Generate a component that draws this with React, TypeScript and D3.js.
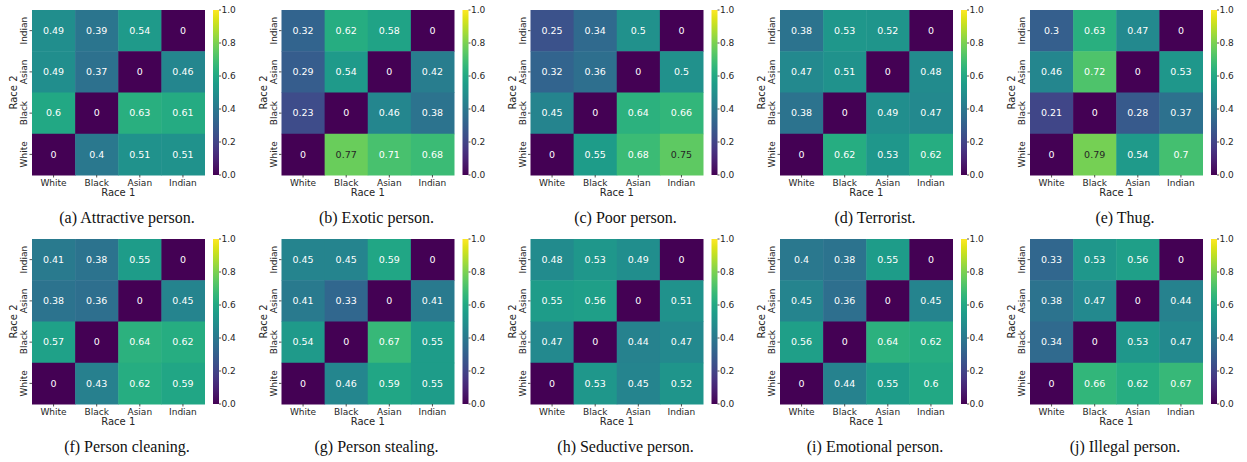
import * as d3 from 'd3'

// columns: Race 1, rows (top to bottom): Race 2
const race1 = ['White', 'Black', 'Asian', 'Indian']
const race2 = ['Indian', 'Asian', 'Black', 'White']

const attractive = [[0.49, 0.39, 0.54, 0], [0.49, 0.37, 0, 0.46], [0.6, 0, 0.63, 0.61], [0, 0.4, 0.51, 0.51]]
const exotic = [[0.32, 0.62, 0.58, 0], [0.29, 0.54, 0, 0.42], [0.23, 0, 0.46, 0.38], [0, 0.77, 0.71, 0.68]]
const poor = [[0.25, 0.34, 0.5, 0], [0.32, 0.36, 0, 0.5], [0.45, 0, 0.64, 0.66], [0, 0.55, 0.68, 0.75]]
const terrorist = [[0.38, 0.53, 0.52, 0], [0.47, 0.51, 0, 0.48], [0.38, 0, 0.49, 0.47], [0, 0.62, 0.53, 0.62]]
const thug = [[0.3, 0.63, 0.47, 0], [0.46, 0.72, 0, 0.53], [0.21, 0, 0.28, 0.37], [0, 0.79, 0.54, 0.7]]
const cleaning = [[0.41, 0.38, 0.55, 0], [0.38, 0.36, 0, 0.45], [0.57, 0, 0.64, 0.62], [0, 0.43, 0.62, 0.59]]
const stealing = [[0.45, 0.45, 0.59, 0], [0.41, 0.33, 0, 0.41], [0.54, 0, 0.67, 0.55], [0, 0.46, 0.59, 0.55]]
const seductive = [[0.48, 0.53, 0.49, 0], [0.55, 0.56, 0, 0.51], [0.47, 0, 0.44, 0.47], [0, 0.53, 0.45, 0.52]]
const emotional = [[0.4, 0.38, 0.55, 0], [0.45, 0.36, 0, 0.45], [0.56, 0, 0.64, 0.62], [0, 0.44, 0.55, 0.6]]
const illegal = [[0.33, 0.53, 0.56, 0], [0.38, 0.47, 0, 0.44], [0.34, 0, 0.53, 0.47], [0, 0.66, 0.62, 0.67]]

const captions = [
  '(a) Attractive person.', '(b) Exotic person.', '(c) Poor person.', '(d) Terrorist.', '(e) Thug.',
  '(f) Person cleaning.', '(g) Person stealing.', '(h) Seductive person.', '(i) Emotional person.', '(j) Illegal person.'
]
const matrices = [attractive, exotic, poor, terrorist, thug, cleaning, stealing, seductive, emotional, illegal]

const colorbarTicks = [0, 0.2, 0.4, 0.6, 0.8, 1.0]

const sans = 'DejaVu Sans, sans-serif'
const ink = '#262626'

// annotations switch to dark text only on the lightest cells
const darkTextFrom = 0.74

const W = 172.5
const H = 165

const Panel = ({ data, caption, left, top, id }: any) => {
  const x = d3.scaleBand().domain(race1).range([left, left + W])
  const y = d3.scaleBand().domain(race2).range([top, top + H])
  const cb = d3.scaleLinear().domain([0, 1]).range([top + H, top])
  const cbX = left + 181
  const cx = left + W / 2

  return (
    <g>
      {data.map((row: number[], i: number) =>
        row.map((v, j) => (
          <g key={`${i}-${j}`}>
            <rect x={x(race1[j])} y={y(race2[i])} width={x.bandwidth() + 0.5} height={y.bandwidth() + 0.5} fill={d3.interpolateViridis(v)} />
            <text
              x={x(race1[j])! + x.bandwidth() / 2}
              y={y(race2[i])! + y.bandwidth() / 2}
              dy="0.35em"
              textAnchor="middle"
              fontSize={9.5}
              fontFamily={sans}
              fill={v >= darkTextFrom ? ink : '#ffffff'}
            >
              {String(v)}
            </text>
          </g>
        ))
      )}

      {/* row ticks */}
      {race2.map(r => {
        const yy = y(r)! + y.bandwidth() / 2
        return (
          <g key={r}>
            <line x1={left - 2.5} x2={left} y1={yy} y2={yy} stroke={ink} strokeWidth={0.8} />
            <text transform={`translate(${left - 5},${yy}) rotate(-90)`} textAnchor="middle" fontSize={9} fontFamily={sans} fill={ink}>
              {r}
            </text>
          </g>
        )
      })}

      {/* column ticks */}
      {race1.map(c => {
        const xx = x(c)! + x.bandwidth() / 2
        return (
          <g key={c}>
            <line x1={xx} x2={xx} y1={top + H} y2={top + H + 2.5} stroke={ink} strokeWidth={0.8} />
            <text x={xx} y={top + H + 10.5} textAnchor="middle" fontSize={9} fontFamily={sans} fill={ink}>
              {c}
            </text>
          </g>
        )
      })}

      <text x={cx} y={top + H + 21} textAnchor="middle" fontSize={10} fontFamily={sans} fill={ink}>Race 1</text>
      <text transform={`translate(${left - 15},${top + H / 2}) rotate(-90)`} textAnchor="middle" fontSize={10} fontFamily={sans} fill={ink}>
        Race 2
      </text>

      {/* colorbar */}
      <rect x={cbX} y={top} width={6} height={H} fill={`url(#viridis-${id})`} />
      {colorbarTicks.map(t => (
        <g key={t}>
          <line x1={cbX + 6} x2={cbX + 8} y1={cb(t)} y2={cb(t)} stroke={ink} strokeWidth={0.8} />
          <text x={cbX + 8.5} y={cb(t)} dy="0.35em" fontSize={9} fontFamily={sans} fill={ink}>
            {t.toFixed(1)}
          </text>
        </g>
      ))}

      <text x={left + 95} y={top + H + 48} textAnchor="middle" fontSize={16} fontFamily="Liberation Serif, Times New Roman, serif" fill="#111">
        {caption}
      </text>
    </g>
  )
}

const App = () => {
  const stops = d3.range(0, 1.0001, 0.05)
  const lefts = [32, 281.5, 530.5, 780, 1030]
  const tops = [10, 239]

  return (
    <svg width={1247} height={462} style={{ position: 'absolute', left: 0, top: 0, background: '#fff' }}>
      <defs>
        {matrices.map((_, k) => (
          <linearGradient key={k} id={`viridis-${k}`} x1="0" y1="1" x2="0" y2="0">
            {stops.map(s => (
              <stop key={s} offset={s} stopColor={d3.interpolateViridis(s)} />
            ))}
          </linearGradient>
        ))}
      </defs>
      {matrices.map((m, k) => (
        <Panel key={k} id={k} data={m} caption={captions[k]} left={lefts[k % 5]} top={tops[Math.floor(k / 5)]} />
      ))}
    </svg>
  )
}

export default App
